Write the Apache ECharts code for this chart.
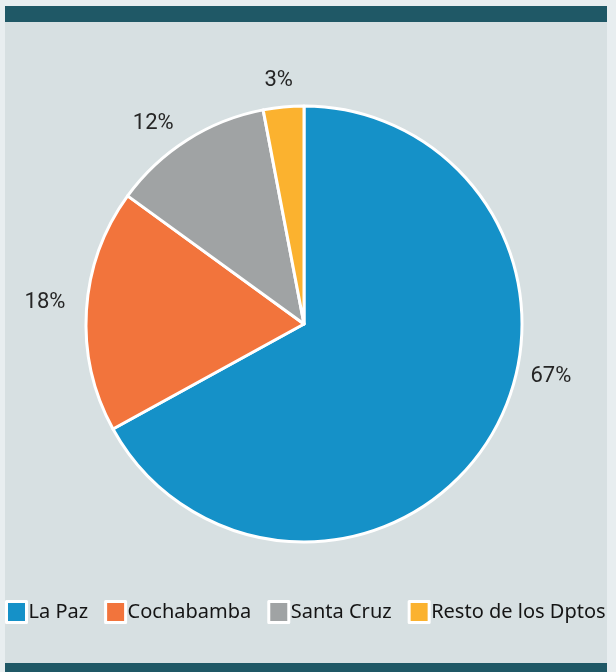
<!DOCTYPE html>
<html>
<head>
<meta charset="utf-8">
<script src="https://cdn.jsdelivr.net/npm/echarts@6/dist/echarts.min.js"></script>
<style>
  html, body { margin: 0; padding: 0; background: #e8eef0; }
  #panel {
    position: absolute; left: 5px; top: 6px; width: 602px; height: 666px;
    background: #d7e0e2;
  }
  #topbar { position: absolute; left: 0; top: 0; width: 602px; height: 16px; background: #1f5866; }
  #bottombar { position: absolute; left: 0; top: 657px; width: 602px; height: 9px; background: #1f5866; }
  #chart { position: absolute; left: 0; top: 0; width: 616px; height: 672px; }
</style>
</head>
<body>
<div id="panel">
  <div id="topbar"></div>
  <div id="bottombar"></div>
</div>
<div id="chart"></div>
<script>
// departamentos y su participación (%)
const deptos = ["La Paz", "Cochabamba", "Santa Cruz", "Resto de los Dptos"];
const valores = [67, 18, 12, 3];
const colores = ["#1591c8", "#f2743c", "#a0a3a4", "#fbb22f"];

let chart = echarts.init(document.getElementById("chart"));

let option = {
  color: colores,
  legend: {
    left: 5,
    top: 600,
    width: 680,
    padding: 0,
    itemWidth: 20,
    itemHeight: 21,
    itemGap: 16,
    icon: "rect",
    itemStyle: { borderColor: "#ffffff", borderWidth: 3 },
    textStyle: {
      fontFamily: "Noto Sans",
      fontSize: 20,
      color: "#151515",
      padding: [0, 0, 0, -3]
    },
    data: deptos
  },
  series: [
    {
      type: "pie",
      center: [304, 324],
      radius: [0, 218],
      startAngle: 90,
      clockwise: true,
      silent: true,
      animation: false,
      itemStyle: { borderColor: "#ffffff", borderWidth: 3 },
      label: {
        show: true,
        position: "outside",
        formatter: "{c}%",
        fontFamily: "Roboto",
        fontSize: 22,
        color: "#262626"
      },
      labelLine: { show: false, length: 16, length2: 0 },
      labelLayout: function (p) {
        if (p.dataIndex === 0) return { dx: 20, dy: -67 };
        if (p.dataIndex === 1) return { dx: 0, dy: -7 };
        if (p.dataIndex === 2) return { dx: 0, dy: -3 };
        if (p.dataIndex === 3) return { dx: 16, dy: -11 };
      },
      data: deptos.map((d, i) => ({ name: d, value: valores[i] }))
    }
  ]
};

chart.setOption(option);
</script>
</body>
</html>
